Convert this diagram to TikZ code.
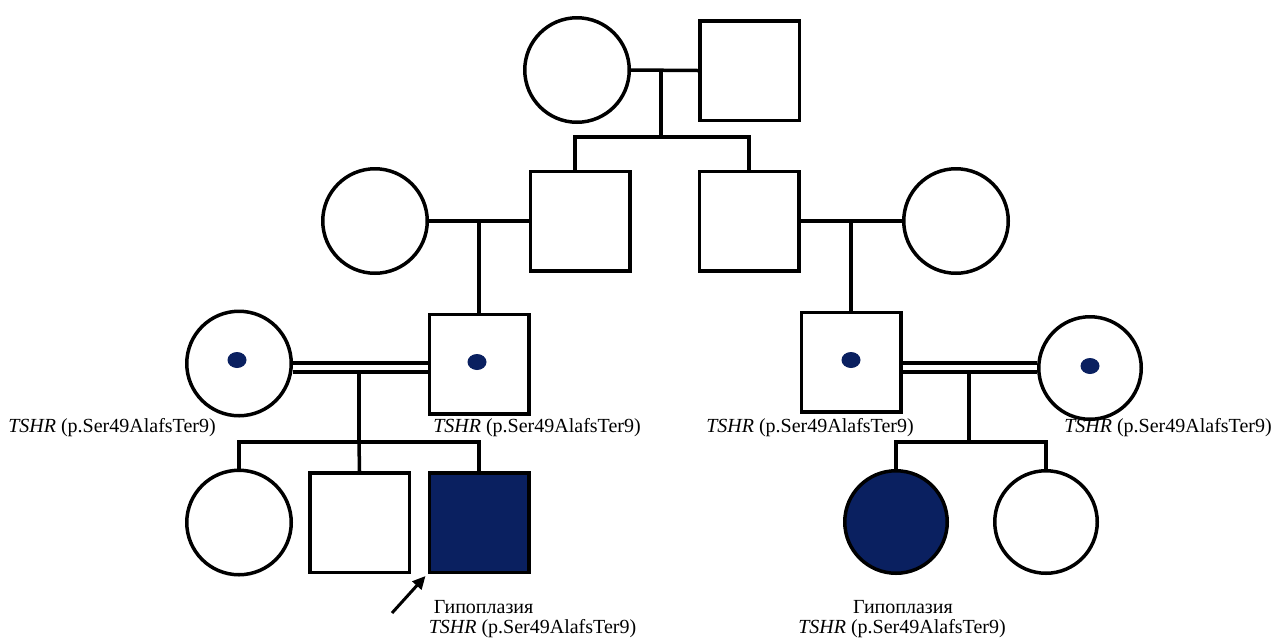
\documentclass[tikz,border=0pt]{standalone}
\usepackage{fontspec}
\setmainfont{Liberation Serif}
\usetikzlibrary{arrows.meta}
\definecolor{navy}{HTML}{0A2060}
\begin{document}
\begin{tikzpicture}[x=1pt,y=-1pt,line width=3.5pt,
  fem/.style={circle,draw,minimum size=104.5pt,inner sep=0pt,fill=white},
  mal/.style={rectangle,draw,minimum size=99.5pt,inner sep=0pt,fill=white},
  aff/.style={fill=navy},
  dbl/.style={double=white,double distance=5.5pt,line width=3.5pt},
  lbl/.style={inner sep=0pt,font=\fontsize{20pt}{22pt}\selectfont},
  cdot/.style={navy}]
\useasboundingbox[fill=white] (0,0) rectangle (1274,641);
% generation I
\node[fem] (f1) at (577,70) {};
\node[mal] (m1) at (749.5,70.5) {};
% generation II
\node[fem] (f2a) at (375,221) {};
\node[mal] (m2a) at (580,221) {};
\node[mal] (m2b) at (749,221) {};
\node[fem] (f2b) at (956,221) {};
% generation III
\node[fem] (f3a) at (239,363.5) {};
\node[mal] (m3a) at (479,364) {};
\node[mal] (m3b) at (851,362) {};
\node[fem,minimum size=102.5pt] (f3b) at (1090,368) {};
% generation IV
\node[fem] (f4a) at (239,522.5) {};
\node[mal] (m4a) at (359.5,522.5) {};
\node[mal,aff] (m4b) at (479,522.5) {};
\node[fem,aff,minimum size=102.5pt] (f4b) at (896,522) {};
\node[fem,minimum size=102.5pt] (f4c) at (1046,522) {};
% carrier dots
\fill[cdot] (237,360) ellipse (9.5pt and 8pt);
\fill[cdot] (477,362) ellipse (9.5pt and 8pt);
\fill[cdot] (851,360) ellipse (9.5pt and 8pt);
\fill[cdot] (1090,366) ellipse (9.5pt and 8pt);
% gen I couple and sibship
\draw (f1.east) -- (m1.west);
\coordinate (j1) at (661,70);
\coordinate (k1) at (661,137);
\draw (j1) -- (k1);
\draw ([xshift=-5pt]m2a.north) |- (k1) -| (m2b.north);
% gen II couples
\draw (f2a.east) -- (m2a.west);
\draw (m2b.east) -- (f2b.west);
\coordinate (j2a) at (479,221);
\coordinate (j2b) at (851,221);
\draw (j2a) -- (m3a.north);
\draw (j2b) -- (m3b.north);
% gen III consanguineous couples
\coordinate (dbrow) at (0,367.5);
\draw[dbl] (f3a.east |- dbrow) -- (m3a.west |- dbrow);
\draw[dbl] (m3b.east |- dbrow) -- (f3b.west |- dbrow);
\coordinate (d3a) at (359,370.5);
\coordinate (k3a) at (359,442);
\draw (d3a) -- (k3a);
\draw (f4a.north) |- (m4b.north |- k3a) -- (m4b.north);
\draw (k3a) -- (m4a.north);
\coordinate (d3b) at (969,370.5);
\coordinate (k3b) at (969,442);
\draw (d3b) -- (k3b);
\draw (f4b.north) |- (k3b) -| (f4c.north);
% labels
\node[lbl] (t1) at (112,428) {\textit{TSHR} (p.Ser49AlafsTer9)};
\node[lbl] (t2) at (537,428) {\textit{TSHR} (p.Ser49AlafsTer9)};
\node[lbl] (t3) at (810,428) {\textit{TSHR} (p.Ser49AlafsTer9)};
\node[lbl] (t4) at (1168,428) {\textit{TSHR} (p.Ser49AlafsTer9)};
\node[lbl,anchor=west] (h1) at (432,607) {Гипоплазия};
\node[lbl,anchor=west] (t5) at (427,629) {\textit{TSHR} (p.Ser49AlafsTer9)};
\node[lbl] (h2) at (903,607) {Гипоплазия};
\node[lbl] (t6) at (902,629) {\textit{TSHR} (p.Ser49AlafsTer9)};
% proband arrow
\coordinate (pa) at (392,613);
\draw[line width=3pt,-{Triangle[length=13pt,width=12pt]}] (pa) -- ([shift={(-2pt,-2pt)}]m4b.south west);
\end{tikzpicture}
\end{document}
